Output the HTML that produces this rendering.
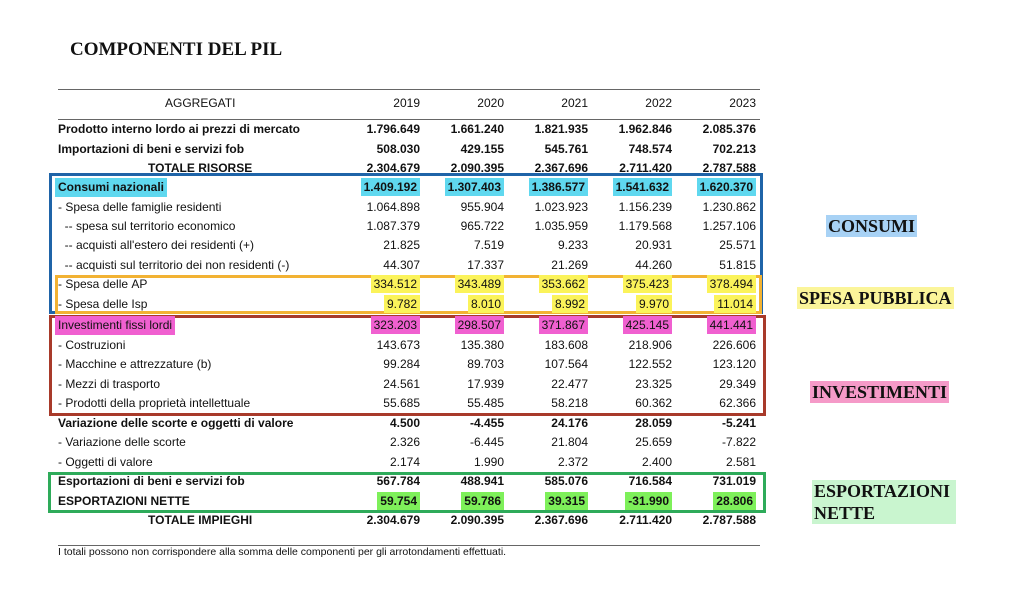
<!DOCTYPE html>
<html><head><meta charset="utf-8"><style>
body{margin:0;width:1024px;height:597px;background:#fff;position:relative;overflow:hidden;font-family:"Liberation Sans",Arial,sans-serif;color:#111}
.a{position:absolute}
.r{position:absolute;left:0;width:1024px;height:19px;font-size:12px;line-height:19px}
.r span{position:absolute;white-space:nowrap}
.l{left:58px}
.n{text-align:right;width:90px}
.b{font-weight:bold}
.hl{padding:0 3px;margin:0 -3px}
.box{position:absolute;border:3px solid;box-sizing:border-box}
.tag{position:absolute;font-family:"Liberation Serif",serif;font-weight:bold;font-size:18px;line-height:22px;padding:0 2px;color:#111}
</style></head><body>
<div class="a" style="left:70px;top:39px;font-family:'Liberation Serif',serif;font-weight:bold;font-size:19px">COMPONENTI DEL PIL</div>
<div class="a" style="left:58px;top:89px;width:702px;height:1px;background:#666"></div>
<div class="a" style="left:58px;top:119px;width:702px;height:1px;background:#666"></div>
<div class="a" style="left:58px;top:545px;width:702px;height:1px;background:#666"></div>
<div class="a" style="left:58px;top:546px;font-size:10.5px">I totali possono non corrispondere alla somma delle componenti per gli arrotondamenti effettuati.</div>

<div class="box" style="left:49px;top:173px;width:714px;height:141px;border-color:#1f64a8"></div>
<div class="box" style="left:55px;top:275px;width:707px;height:39px;border-color:#f2b233"></div>
<div class="box" style="left:49px;top:315px;width:717px;height:101px;border-color:#a83a2a"></div>
<div class="box" style="left:48px;top:472px;width:718px;height:41px;border-color:#2eab5a"></div>

<div id="rows"></div>
<script>
const rows=[
[94,"AGGREGATI","2019","2020","2021","2022","2023","h"],
[120,"Prodotto interno lordo ai prezzi di mercato","1.796.649","1.661.240","1.821.935","1.962.846","2.085.376","b"],
[140,"Importazioni di beni e servizi fob","508.030","429.155","545.761","748.574","702.213","b"],
[159,"TOTALE RISORSE","2.304.679","2.090.395","2.367.696","2.711.420","2.787.588","bt"],
[178,"Consumi nazionali","1.409.192","1.307.403","1.386.577","1.541.632","1.620.370","b","#5fd8ef"],
[198,"- Spesa delle famiglie residenti","1.064.898","955.904","1.023.923","1.156.239","1.230.862",""],
[217,"  -- spesa sul territorio economico","1.087.379","965.722","1.035.959","1.179.568","1.257.106",""],
[236,"  -- acquisti all'estero dei residenti (+)","21.825","7.519","9.233","20.931","25.571",""],
[256,"  -- acquisti sul territorio dei non residenti (-)","44.307","17.337","21.269","44.260","51.815",""],
[275,"- Spesa delle AP","334.512","343.489","353.662","375.423","378.494","","#fbf35a","n"],
[295,"- Spesa delle Isp","9.782","8.010","8.992","9.970","11.014","","#fbf35a","n"],
[316,"Investimenti fissi lordi","323.203","298.507","371.867","425.145","441.441","","#f060d0"],
[336,"- Costruzioni","143.673","135.380","183.608","218.906","226.606",""],
[355,"- Macchine e attrezzature (b)","99.284","89.703","107.564","122.552","123.120",""],
[375,"- Mezzi di trasporto","24.561","17.939","22.477","23.325","29.349",""],
[394,"- Prodotti della proprietà intellettuale","55.685","55.485","58.218","60.362","62.366",""],
[414,"Variazione delle scorte e oggetti di valore","4.500","-4.455","24.176","28.059","-5.241","b"],
[433,"- Variazione delle scorte","2.326","-6.445","21.804","25.659","-7.822",""],
[453,"- Oggetti di valore","2.174","1.990","2.372","2.400","2.581",""],
[472,"Esportazioni di beni e servizi fob","567.784","488.941","585.076","716.584","731.019","b"],
[492,"ESPORTAZIONI NETTE","59.754","59.786","39.315","-31.990","28.806","b","#7ef05a","n"],
[511,"TOTALE IMPIEGHI","2.304.679","2.090.395","2.367.696","2.711.420","2.787.588","bt"]];
const rights=[420,504,588,672,756];let h="";
for(const r of rows){const [y,lab,...v]=r;const st=r[7],col=r[8],nolab=r[9];
 const bold=st&&st.startsWith("b")?" b":"";
 const lstyle=st=="bt"?"left:148px":st=="h"?"left:165px":"";
 const lb=(col&&!nolab)?`<span class="hl" style="background:${col}">${lab.replace(/ /g,"&nbsp;")}</span>`:lab.replace(/ /g,"&nbsp;");
 h+=`<div class="r" style="top:${y}px"><span class="l${bold}" style="${lstyle}">${lb}</span>`;
 for(let i=0;i<5;i++){const t=r[2+i];const inner=col?`<span style="position:static;background:${col};padding:2px 3px">${t}</span>`:t;
  h+=`<span class="n${bold}" style="left:${rights[i]-90}px">${inner}</span>`;}
 h+="</div>";}
document.getElementById("rows").innerHTML=h;
</script>

<div class="tag" style="left:826px;top:215px;background:#a8d2f5">CONSUMI</div>
<div class="tag" style="left:797px;top:287px;background:#fbf59a">SPESA PUBBLICA</div>
<div class="tag" style="left:810px;top:381px;background:#f59ac8">INVESTIMENTI</div>
<div class="tag" style="left:812px;top:480px;background:#c9f5cf;width:140px">ESPORTAZIONI<br>NETTE</div>
</body></html>
